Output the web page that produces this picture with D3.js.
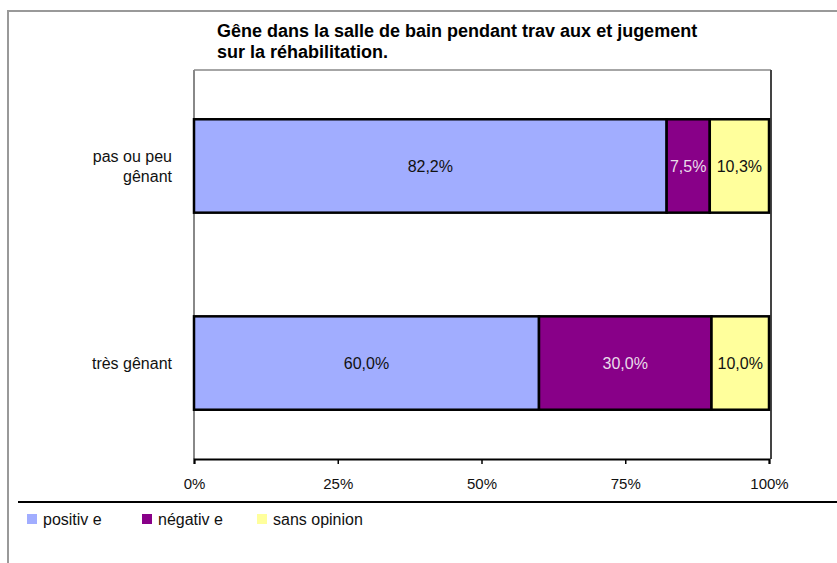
<!DOCTYPE html>
<html>
<head>
<meta charset="utf-8">
<script src="https://cdn.jsdelivr.net/npm/d3@7"></script>
<style>
    body { margin: 0; background: #fff; }
    svg { display: block; font-family: "Liberation Sans", Arial, sans-serif; }
</style>
</head>
<body>
<svg id="chart" width="837" height="563"></svg>
<script>
const titleLines = ["Gêne dans la salle de bain pendant trav aux et jugement", "sur la réhabilitation."];
const categories = [["pas ou peu", "gênant"], ["très gênant"]];
const seriesNames = ["positiv e", "négativ e", "sans opinion"];
const positive = [82.2, 60.0];
const negative = [7.5, 30.0];
const sansOpinion = [10.3, 10.0];
const tickValues = [0, 25, 50, 75, 100];

const colors = ["#A1ADFF", "#880088", "#FFFF9C"];
const labelColors = ["#111", "#eadcea", "#111"];

const svg = d3.select("#chart");
const plot = { left: 194, right: 769, top: 70, bottom: 459 };

// outer frame (only left and top edges visible)
svg.append("path")
    .attr("d", "M8,563 V11 H837")
    .attr("fill", "none")
    .attr("stroke", "#999")
    .attr("stroke-width", 2);

// title
svg.append("g").selectAll("text")
    .data(titleLines)
    .enter()
    .append("text")
    .attr("x", 217)
    .attr("y", (d, i) => 37 + i * 21)
    .attr("font-size", 18)
    .attr("font-weight", "bold")
    .attr("fill", "#000")
    .text((d) => d);

const x = d3.scaleLinear().domain([0, 100]).range([plot.left, plot.right]);
const y = d3.scaleBand()
    .domain(d3.range(categories.length))
    .range([plot.top, plot.bottom])
    .paddingInner(0.526)
    .paddingOuter(0.25)
    .align(0.5);

// plot area border
svg.append("line").attr("x1", plot.left).attr("x2", plot.right + 2)
    .attr("y1", plot.top).attr("y2", plot.top)
    .attr("stroke", "#888").attr("stroke-width", 1.5);
svg.append("line").attr("x1", plot.right + 2).attr("x2", plot.right + 2)
    .attr("y1", plot.top).attr("y2", plot.bottom)
    .attr("stroke", "#444").attr("stroke-width", 2);
svg.append("line").attr("x1", plot.left).attr("x2", plot.left)
    .attr("y1", plot.top).attr("y2", plot.bottom)
    .attr("stroke", "#888").attr("stroke-width", 2);

// stacked data
const rows = categories.map((c, i) => ({ i, values: [positive[i], negative[i], sansOpinion[i]] }));
const segments = [];
rows.forEach((r) => {
    let acc = 0;
    r.values.forEach((v, k) => {
        segments.push({ row: r.i, k, x0: acc, x1: acc + v, v });
        acc += v;
    });
});

svg.append("g").selectAll("rect")
    .data(segments)
    .enter()
    .append("rect")
    .attr("x", (d) => x(d.x0))
    .attr("y", (d) => y(d.row))
    .attr("width", (d) => x(d.x1) - x(d.x0))
    .attr("height", y.bandwidth())
    .attr("fill", (d) => colors[d.k])
    .attr("stroke", "#000")
    .attr("stroke-width", 2.5);

svg.append("g").selectAll("text")
    .data(segments)
    .enter()
    .append("text")
    .attr("x", (d) => (x(d.x0) + x(d.x1)) / 2)
    .attr("y", (d) => y(d.row) + y.bandwidth() / 2 + 6)
    .attr("text-anchor", "middle")
    .attr("font-size", 16)
    .attr("fill", (d) => labelColors[d.k])
    .text((d) => d.v.toFixed(1).replace(".", ",") + "%");

// category labels
categories.forEach((lines, i) => {
    const cy = y(i) + y.bandwidth() / 2;
    svg.append("g").selectAll("text")
        .data(lines)
        .enter()
        .append("text")
        .attr("x", 172)
        .attr("y", (d, j) => cy + 6 + (j - (lines.length - 1) / 2) * 20)
        .attr("text-anchor", "end")
        .attr("font-size", 16)
        .attr("fill", "#111")
        .text((d) => d);
});

// x axis
const xAxis = d3.axisBottom(x)
    .tickValues(tickValues)
    .tickSize(5)
    .tickPadding(14)
    .tickFormat((d) => d + "%");
const gx = svg.append("g")
    .attr("transform", `translate(0,${plot.bottom})`)
    .call(xAxis);
gx.select(".domain").attr("stroke", "#000").attr("stroke-width", 2);
gx.selectAll(".tick line").attr("stroke", "#000").attr("stroke-width", 1.5);
gx.selectAll(".tick text")
    .attr("font-size", 15)
    .attr("font-family", "Liberation Sans, Arial, sans-serif")
    .attr("fill", "#111");

// legend separator
svg.append("line")
    .attr("x1", 18).attr("x2", 837)
    .attr("y1", 502).attr("y2", 502)
    .attr("stroke", "#000").attr("stroke-width", 2);

// legend
const legendX = [27, 142, 257];
const legend = svg.append("g").selectAll("g")
    .data(seriesNames)
    .enter()
    .append("g")
    .attr("transform", (d, i) => `translate(${legendX[i]},519)`);
legend.append("rect")
    .attr("x", 0).attr("y", -5)
    .attr("width", 10).attr("height", 10)
    .attr("fill", (d, i) => colors[i]);
legend.append("text")
    .attr("x", 16).attr("y", 6)
    .attr("font-size", 16)
    .attr("fill", "#111")
    .text((d) => d);
</script>
</body>
</html>
